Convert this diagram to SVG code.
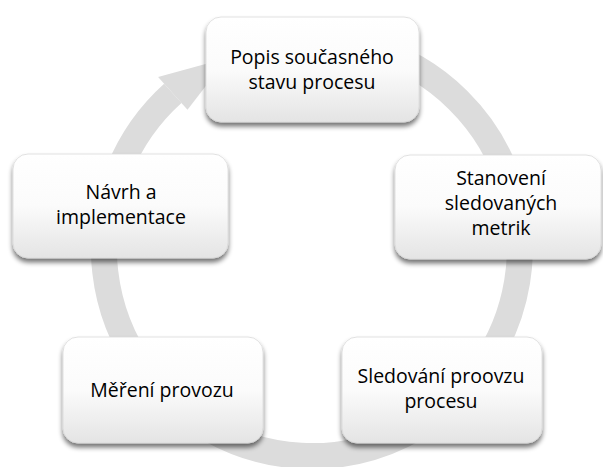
<svg xmlns="http://www.w3.org/2000/svg" width="603" height="467" viewBox="0 0 603 467">
  <style>
    .ring { fill: none; stroke: #dcdcdc; stroke-width: 26; }
    .head { fill: #dcdcdc; }
    .box { fill: url(#boxFill); stroke: #d8d8d8; stroke-width: 0.75; filter: url(#drop); }
    .label { font-family: "Open Sans", "Liberation Sans", sans-serif; font-size: 19.5px; fill: #000; text-anchor: middle; }
  </style>
  <defs>
    <linearGradient id="boxFill" x1="0" y1="0" x2="0" y2="1">
      <stop offset="0" stop-color="#ffffff"/>
      <stop offset="0.5" stop-color="#fbfbfb"/>
      <stop offset="1" stop-color="#e4e4e4"/>
    </linearGradient>
    <filter id="drop" x="-10%" y="-10%" width="120%" height="130%">
      <feGaussianBlur in="SourceAlpha" stdDeviation="2.5"/>
      <feOffset dx="0" dy="4" result="blur"/>
      <feComponentTransfer>
        <feFuncA type="linear" slope="0.55"/>
      </feComponentTransfer>
      <feMerge>
        <feMergeNode/>
        <feMergeNode in="SourceGraphic"/>
      </feMerge>
    </filter>
  </defs>

  <rect width="603" height="467" fill="#ffffff"/>

  <!-- continuous cycle arrow: ring around centre (312,248), r=208 -->
  <g id="connectors">
    <path class="ring" d="M 275.9 43.2 A 208 208 0 1 1 172.8 93.4"/>
    <polygon class="head" points="158.1,77.1 227.4,58 187.5,109.8"/>
  </g>

  <g id="node-popis">
    <rect class="box" x="206" y="17" width="213" height="105" rx="15"/>
    <text class="label" x="312" y="64">Popis současného</text>
    <text class="label" x="312" y="89">stavu procesu</text>
  </g>

  <g id="node-stanoveni">
    <rect class="box" x="395" y="155" width="206" height="104" rx="15"/>
    <text class="label" x="501" y="185">Stanovení</text>
    <text class="label" x="501" y="210">sledovaných</text>
    <text class="label" x="501" y="235">metrik</text>
  </g>

  <g id="node-sledovani">
    <rect class="box" x="342" y="337" width="200" height="106" rx="15"/>
    <text class="label" x="441" y="383">Sledování proovzu</text>
    <text class="label" x="441" y="408">procesu</text>
  </g>

  <g id="node-mereni">
    <rect class="box" x="63" y="337" width="200" height="106" rx="15"/>
    <text class="label" x="162" y="397">Měření provozu</text>
  </g>

  <g id="node-navrh">
    <rect class="box" x="13" y="154" width="215" height="104" rx="15"/>
    <text class="label" x="121" y="199">Návrh a</text>
    <text class="label" x="121" y="224">implementace</text>
  </g>
</svg>
